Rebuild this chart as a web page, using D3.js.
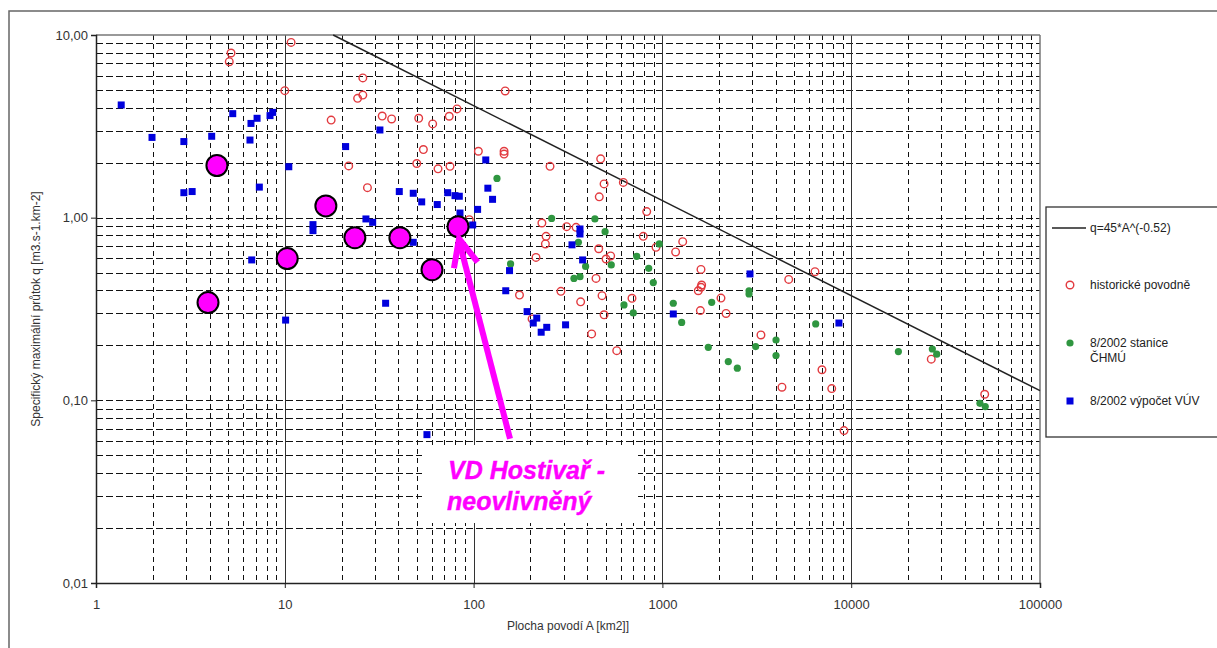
<!DOCTYPE html>
<html>
<head>
<meta charset="utf-8">
<script src="https://cdn.jsdelivr.net/npm/d3@7"></script>
<style>
  html, body { margin: 0; padding: 0; background: #fff; }
  svg { display: block; font-family: "Liberation Sans", Arial, sans-serif; }
</style>
</head>
<body>
<svg id="chart" width="1217" height="648"></svg>
<script>
// Plocha povodí A [km2] a specifický průtok q [m3.s-1.km-2]

// historické povodně
const histArea = [5.19, 5.08, 10.8, 10.0, 25.9, 25.9, 24.3, 17.6, 32.8, 36.8, 51.2, 60.7, 74.3, 81.7,
  106, 54.2, 50.0, 64.8, 75.0, 21.8, 27.4, 94.9, 147, 145, 145, 254, 471, 491, 463, 621, 826,
  230, 242, 240, 311, 349, 214, 460, 503, 532, 445, 175, 290, 479, 369, 690, 491, 422, 573,
  792, 925, 1281, 1175, 1601, 1614, 1601, 1549, 1589, 2043, 2173, 4667, 6430, 3327, 4298,
  7000, 7885, 9160, 26550, 50950, 204];
const histQ = [7.97, 7.14, 9.11, 4.96, 5.82, 4.69, 4.50, 3.42, 3.60, 3.47, 3.50, 3.26, 3.59, 3.94,
  2.31, 2.36, 1.98, 1.85, 1.91, 1.92, 1.46, 0.975, 4.94, 2.31, 2.23, 1.91, 2.10, 1.53, 1.30, 1.56, 1.08,
  0.935, 0.79, 0.718, 0.893, 0.885, 0.606, 0.676, 0.594, 0.617, 0.465, 0.377, 0.395, 0.374, 0.346, 0.362, 0.294, 0.231, 0.187,
  0.79, 0.688, 0.739, 0.649, 0.521, 0.428, 0.416, 0.398, 0.31, 0.363, 0.299, 0.459, 0.506, 0.228, 0.118,
  0.147, 0.116, 0.0683, 0.168, 0.108, 0.279];

// 8/2002 stanice ČHMÚ
const chmuArea = [133, 259, 439, 497, 963, 731, 846, 895, 157, 392, 340, 366, 536, 626, 701, 1142,
  1265, 1824, 2877, 2877, 1750, 2234, 2494, 3119, 3998, 3998, 6486, 17780, 26900, 28380, 48080, 51290, 359];
const chmuQ = [1.64, 0.99, 0.984, 0.838, 0.718, 0.614, 0.528, 0.441, 0.558, 0.541, 0.465, 0.475, 0.551, 0.333, 0.301, 0.34,
  0.267, 0.344, 0.398, 0.382, 0.195, 0.163, 0.150, 0.197, 0.214, 0.176, 0.262, 0.185, 0.191, 0.179, 0.0963, 0.0924, 0.733];

// 8/2002 výpočet VÚV
const vuvArea = [1.36, 1.98, 2.92, 4.10, 5.30, 6.62, 7.13, 6.54, 8.35, 8.63, 10.5, 2.92, 3.23, 7.33, 6.68, 10.1,
  14.1, 14.1, 21.0, 26.9, 29.2, 31.9, 34.2, 40.4, 47.9, 53.1, 64.2, 72.9, 79.7, 84.0, 84.7, 105, 98.9, 47.9, 56.6,
  116, 119, 126, 155, 148, 192, 216, 207, 244, 228, 307, 366, 366, 332, 378, 2910, 1142, 8610];
const vuvQ = [4.14, 2.75, 2.61, 2.79, 3.71, 3.28, 3.50, 2.66, 3.62, 3.77, 1.90, 1.37, 1.39, 1.47, 0.587, 0.275,
  0.916, 0.849, 2.45, 0.984, 0.943, 3.02, 0.34, 1.39, 1.36, 1.22, 1.18, 1.37, 1.32, 1.31, 1.06, 1.11, 0.912, 0.733, 0.0649,
  2.07, 1.45, 1.26, 0.513, 0.398, 0.306, 0.282, 0.265, 0.251, 0.236, 0.259, 0.867, 0.814, 0.71, 0.587, 0.492, 0.297, 0.265];

// vyznačené profily (poslední = VD Hostivař)
const profilArea = [4.37, 3.92, 10.3, 16.5, 23.5, 40.7, 60.2, 82.7];
const profilQ = [1.93, 0.343, 0.597, 1.16, 0.777, 0.777, 0.519, 0.893];

// obalová křivka q = 45 * A^(-0.52)
const envCoef = 45, envExp = -0.52;

const xTicks = [1, 10, 100, 1000, 10000, 100000];
const yTicks = [0.01, 0.1, 1, 10];
const legendLabels = ["q=45*A^(-0.52)", "historické povodně", "8/2002 stanice", "ČHMÚ", "8/2002 výpočet VÚV"];

const svg = d3.select("#chart");
const x = d3.scaleLog().domain([1, 100000]).range([96, 1040]);
const y = d3.scaleLog().domain([0.01, 10]).range([583, 35]);
const px = v => Math.round(v) + 0.5;

// outer frame
svg.append("rect").attr("x", 9).attr("y", 11).attr("width", 1230).attr("height", 660)
  .attr("fill", "#fff").attr("stroke", "#666").attr("stroke-width", 1.5);

// grid
const minorVals = (lo, hi) => {
  const out = [];
  for (let d = lo; d < hi; d *= 10) for (let m = 1; m <= 9; m++) out.push(+(m * d).toPrecision(3));
  return out;
};
const g = svg.append("g").attr("shape-rendering", "crispEdges");
const yGrid = minorVals(0.01, 10).filter(v => v > 0.01);
g.selectAll("line.hg").data(yGrid).join("line")
  .attr("x1", 96).attr("x2", 1040).attr("y1", d => px(y(d))).attr("y2", d => px(y(d)))
  .attr("stroke", "#111").attr("stroke-width", 1).attr("stroke-dasharray", "7,3");
const xGrid = minorVals(1, 100000).filter(v => v > 1);
const isDecade = v => Math.abs(Math.log10(v) - Math.round(Math.log10(v))) < 1e-6;
g.selectAll("line.vg").data(xGrid).join("line")
  .attr("y1", 35).attr("y2", 583).attr("x1", d => px(x(d))).attr("x2", d => px(x(d)))
  .attr("stroke", d => isDecade(d) ? "#333" : "#111")
  .attr("stroke-width", d => isDecade(d) ? 1.5 : 1)
  .attr("stroke-dasharray", d => isDecade(d) ? null : "5,4");
// top and right border of plot
svg.append("line").attr("x1", 96).attr("x2", 1040).attr("y1", 35).attr("y2", 35).attr("stroke", "#777").attr("stroke-width", 1.5);
svg.append("line").attr("x1", 1040).attr("x2", 1040).attr("y1", 35).attr("y2", 583).attr("stroke", "#777").attr("stroke-width", 1.5);

// axes
const fmtY = d => d3.format(".2f")(d).replace(".", ",");
const yAxis = svg.append("g").attr("transform", "translate(96,0)")
  .call(d3.axisLeft(y).tickValues(yTicks).tickFormat(fmtY).tickSize(5).tickPadding(3));
const xAxis = svg.append("g").attr("transform", "translate(0,583)")
  .call(d3.axisBottom(x).tickValues(xTicks).tickFormat(d3.format("d")).tickSize(5).tickPadding(12));
[yAxis, xAxis].forEach(a => {
  a.select(".domain").attr("stroke", "#222").attr("stroke-width", 1.5);
  a.selectAll(".tick line").attr("stroke", "#222");
  a.selectAll("text").attr("font-size", 13).attr("fill", "#333").attr("font-family", "Liberation Sans, Arial, sans-serif");
});

svg.append("text").attr("x", 568).attr("y", 630).attr("text-anchor", "middle")
  .attr("font-size", 12).attr("fill", "#333").text("Plocha povodí A [km2]]");
svg.append("text").attr("transform", "translate(40,309) rotate(-90)").attr("text-anchor", "middle")
  .attr("font-size", 12).attr("fill", "#333").text("Specifický maximální průtok q [m3.s-1.km-2]");

// envelope curve, clipped to the plot box
const qTop = y.domain()[1];
const aStart = Math.pow(qTop / envCoef, 1 / envExp);
const aEnd = x.domain()[1];
svg.append("line")
  .attr("x1", x(aStart)).attr("y1", y(envCoef * Math.pow(aStart, envExp)))
  .attr("x2", x(aEnd)).attr("y2", y(envCoef * Math.pow(aEnd, envExp)))
  .attr("stroke", "#222").attr("stroke-width", 1.5);

// series
const red = "#e23a3f", green = "#2f9640", blue = "#0000dd", magenta = "#ff00ff";
svg.append("g").selectAll("circle").data(d3.zip(histArea, histQ)).join("circle")
  .attr("cx", d => x(d[0])).attr("cy", d => y(d[1])).attr("r", 3.8)
  .attr("fill", "none").attr("stroke", red).attr("stroke-width", 1.4);
svg.append("g").selectAll("circle").data(d3.zip(chmuArea, chmuQ)).join("circle")
  .attr("cx", d => x(d[0])).attr("cy", d => y(d[1])).attr("r", 3.6)
  .attr("fill", green);
svg.append("g").selectAll("rect").data(d3.zip(vuvArea, vuvQ)).join("rect")
  .attr("x", d => x(d[0]) - 3.5).attr("y", d => y(d[1]) - 3.5).attr("width", 7).attr("height", 7)
  .attr("fill", blue);
svg.append("g").selectAll("circle").data(d3.zip(profilArea, profilQ)).join("circle")
  .attr("cx", d => x(d[0])).attr("cy", d => y(d[1])).attr("r", 10.5)
  .attr("fill", magenta).attr("stroke", "#000").attr("stroke-width", 2);

// arrow to VD Hostivař
const hi = profilArea.length - 1;
const tipX = x(profilArea[hi]) + 1, tipY = y(profilQ[hi]) + 12;
const tailX = tipX + 51, tailY = tipY + 200;
const ang = Math.atan2(tailY - tipY, tailX - tipX);
const armLen = 30, spread = 0.42;
const arrow = svg.append("g").attr("stroke", magenta).attr("stroke-width", 6).attr("stroke-linecap", "butt").attr("fill", "none");
arrow.append("line").attr("x1", tailX).attr("y1", tailY).attr("x2", tipX).attr("y2", tipY + 2);
arrow.append("path").attr("stroke-linejoin", "miter")
  .attr("d", `M${tipX + armLen * Math.cos(ang + spread)},${tipY + armLen * Math.sin(ang + spread)}` +
             `L${tipX},${tipY}` +
             `L${tipX + armLen * Math.cos(ang - spread)},${tipY + armLen * Math.sin(ang - spread)}`);

// annotation label
svg.append("rect").attr("x", 422).attr("y", 445).attr("width", 216).attr("height", 78).attr("fill", "#fff");
const lab = svg.append("text").attr("font-size", 25).attr("font-weight", "bold").attr("font-style", "italic")
  .attr("fill", magenta).attr("stroke", magenta).attr("stroke-width", 0.4);
lab.append("tspan").attr("x", 448).attr("y", 479).text("VD Hostivař -");
lab.append("tspan").attr("x", 447).attr("y", 510).text("neovlivněný");

// legend
const lg = svg.append("g");
lg.append("rect").attr("x", 1046).attr("y", 207).attr("width", 200).attr("height", 230)
  .attr("fill", "#fff").attr("stroke", "#333").attr("stroke-width", 1.3);
lg.append("line").attr("x1", 1052).attr("x2", 1086).attr("y1", 228).attr("y2", 228).attr("stroke", "#222").attr("stroke-width", 1.3);
lg.append("circle").attr("cx", 1070).attr("cy", 285).attr("r", 3.8).attr("fill", "none").attr("stroke", red).attr("stroke-width", 1.4);
lg.append("circle").attr("cx", 1070).attr("cy", 343).attr("r", 3.6).attr("fill", green);
lg.append("rect").attr("x", 1066.5).attr("y", 397.5).attr("width", 7).attr("height", 7).attr("fill", blue);
const lt = (txt, yy) => lg.append("text").attr("x", 1090).attr("y", yy).attr("font-size", 12).attr("fill", "#222").text(txt);
lt(legendLabels[0], 232);
lt(legendLabels[1], 289);
lt(legendLabels[2], 347);
lt(legendLabels[3], 362);
lt(legendLabels[4], 405);
</script>
</body>
</html>
